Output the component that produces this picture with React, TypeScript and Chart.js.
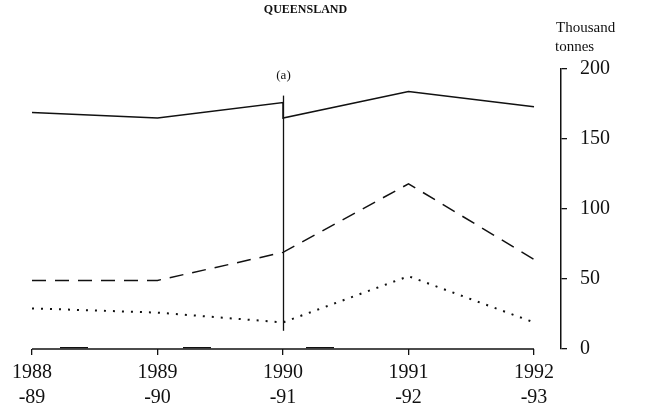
import React, { useEffect, useRef } from 'react';
import { Chart, registerables } from 'chart.js';

Chart.register(...registerables);

// ---- Data ----
const CATEGORIES: string[][] = [
  ['1988', '-89'],
  ['1989', '-90'],
  ['1990', '-91'],
  ['1991', '-92'],
  ['1992', '-93'],
];
const Y_TICK_STEP = 50;
const Y_MIN = 0;
const Y_MAX = 200;

// solid series has a break at 1990-91 (two values at the same category)
const SOLID_X = [0, 1, 2, 2, 3, 4];
const SOLID_Y = [169, 165, 176, 165, 184, 173];
const DASHED_Y = [49, 49, 69, 118, 64];
const DOTTED_Y = [29, 26, 19, 52, 19];
const NEAR_ZERO_Y = [1, 1, 1, 1];

const BREAK_AT = 2;
const BREAK_RANGE = [13, 181];

const TITLE = 'QUEENSLAND';
const UNIT_LINES = ['Thousand', 'tonnes'];
const NOTE = '(a)';

const FONT = '"Liberation Serif", "Times New Roman", serif';
const INK = '#111';

export default function App() {
  const ref = useRef<HTMLCanvasElement | null>(null);

  useEffect(() => {
    document.body.style.margin = '0';
    const canvas = ref.current;
    if (!canvas) return;

    const overlay = {
      id: 'overlay',
      afterDatasetsDraw(chart: any) {
        const { ctx, chartArea: ca } = chart;
        const xs = chart.scales.x;
        const ys = chart.scales.y;
        ctx.save();
        ctx.strokeStyle = INK;
        // baseline along x axis from first to last category
        ctx.lineWidth = 1.5;
        ctx.beginPath();
        ctx.moveTo(xs.getPixelForValue(0), ys.getPixelForValue(0));
        ctx.lineTo(xs.getPixelForValue(CATEGORIES.length - 1), ys.getPixelForValue(0));
        ctx.stroke();
        // break line
        ctx.lineWidth = 1.3;
        ctx.beginPath();
        const bx = Math.round(xs.getPixelForValue(BREAK_AT)) + 0.5;
        ctx.moveTo(bx, ys.getPixelForValue(BREAK_RANGE[0]));
        ctx.lineTo(bx, ys.getPixelForValue(BREAK_RANGE[1]));
        ctx.stroke();

        ctx.fillStyle = INK;
        ctx.textBaseline = 'middle';
        // note
        ctx.font = `13px ${FONT}`;
        ctx.textAlign = 'center';
        ctx.fillText(NOTE, bx, ys.getPixelForValue(BREAK_RANGE[1]) - 20);
        // title
        ctx.font = `bold 12px ${FONT}`;
        ctx.fillText(TITLE, (ca.left + ca.right) / 2 + 9, 10);
        // unit label
        ctx.font = `15px ${FONT}`;
        ctx.textAlign = 'left';
        ctx.fillText(UNIT_LINES[0], ca.right - 5, 28);
        ctx.fillText(UNIT_LINES[1], ca.right - 6, 47);
        ctx.restore();
      },
    };

    const line = (extra: any) => ({
      borderColor: INK,
      borderWidth: 1.5,
      pointRadius: 0,
      fill: false,
      tension: 0,
      ...extra,
    });

    const chart = new Chart(canvas, {
      type: 'line',
      data: {
        datasets: [
          line({ data: SOLID_X.map((x, i) => ({ x, y: SOLID_Y[i] })) }),
          line({ data: DASHED_Y.map((y, i) => ({ x: i, y })), borderDash: [14, 9] }),
          line({ data: DOTTED_Y.map((y, i) => ({ x: i, y })), borderDash: [2, 7], borderWidth: 2 }),
          line({
            data: NEAR_ZERO_Y.map((y, i) => ({ x: i, y })),
            borderDash: [28, 95],
            borderDashOffset: 95,
            borderWidth: 1.2,
          }),
        ],
      },
      options: {
        animation: false,
        responsive: false,
        layout: { padding: { left: 32, top: 69, right: 0, bottom: 0 } },
        plugins: {
          legend: { display: false },
          tooltip: { enabled: false },
          title: { display: false },
        },
        scales: {
          x: {
            type: 'linear',
            min: 0,
            max: 4.215,
            ticks: {
              stepSize: 1,
              includeBounds: false,
              autoSkip: false,
              maxRotation: 0,
              padding: 5,
              color: INK,
              font: { family: FONT, size: 20, lineHeight: 1.25 },
              callback: (v: any) => CATEGORIES[v] ?? '',
            },
            grid: {
              drawOnChartArea: false,
              drawTicks: true,
              tickLength: 6,
              color: INK,
              lineWidth: 1.3,
            },
            border: { display: false },
            afterFit: (s: any) => {
              s.height = 58;
            },
          },
          y: {
            position: 'right',
            min: Y_MIN,
            max: Y_MAX,
            ticks: {
              stepSize: Y_TICK_STEP,
              padding: 13,
              color: INK,
              font: { family: FONT, size: 20 },
            },
            grid: {
              drawOnChartArea: false,
              drawTicks: true,
              tickLength: 6,
              color: INK,
              lineWidth: 1.3,
            },
            border: { display: true, color: INK, width: 1.5 },
            afterFit: (s: any) => {
              s.width = 102;
            },
          },
        },
      } as any,
      plugins: [overlay],
    });

    return () => chart.destroy();
  }, []);

  return (
    <div style={{ width: 663, height: 407 }}>
      <canvas ref={ref} width={663} height={407} style={{ display: 'block' }} />
    </div>
  );
}
